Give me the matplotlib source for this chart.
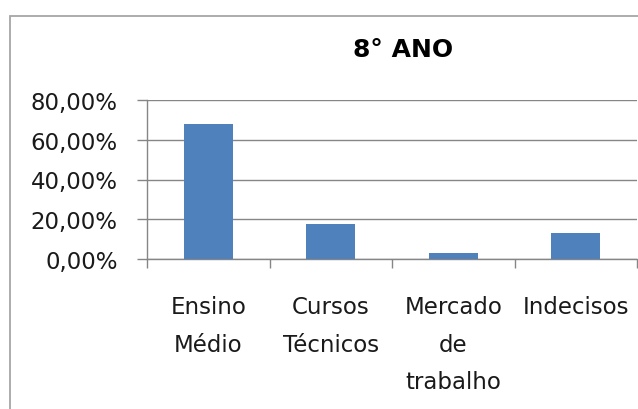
import matplotlib.pyplot as plt
from matplotlib.patches import Rectangle

categories = ["Ensino\nMédio", "Cursos\nTécnicos", "Mercado\nde\ntrabalho", "Indecisos"]
values = [0.677, 0.178, 0.030, 0.129]
y_ticks = [0.0, 0.2, 0.4, 0.6, 0.8]
y_labels = ["0,00%", "20,00%", "40,00%", "60,00%", "80,00%"]
title = "8° ANO"

W, H = 638, 410
fig = plt.figure(figsize=(W / 100, H / 100), dpi=100)

# chart area border (Excel style)
fig.patches.append(Rectangle((10 / W, -0.1), 2, 1.1 - 17 / H, transform=fig.transFigure,
                             fill=False, edgecolor="#a6a6a6", linewidth=1.3))

ax = fig.add_axes([147 / W, (H - 260) / H, (637 - 147) / W, (260 - 101) / H])

x = list(range(len(categories)))
ax.bar(x, values, width=0.4, color="#4f81bd", zorder=3)

ax.set_xlim(-0.5, len(categories) - 0.5)
ax.set_ylim(0, 0.8)
ax.set_yticks(y_ticks)
ax.set_yticklabels(y_labels)
ax.set_xticks(x)
ax.set_xticklabels(categories, linespacing=1.8, va="top")
ax.set_xticks([i - 0.5 for i in range(len(categories) + 1)], minor=True)

ax.grid(axis="y", color="#868686", linewidth=1, zorder=0)
for s in ["top", "right"]:
    ax.spines[s].set_visible(False)
for s in ["left", "bottom"]:
    ax.spines[s].set_color("#868686")
    ax.spines[s].set_linewidth(1)

ax.tick_params(axis="y", length=7, width=1, color="#868686", pad=14,
               labelsize=16.5, labelcolor="#1a1a1a")
ax.tick_params(axis="x", which="major", length=0, pad=26,
               labelsize=16.5, labelcolor="#1a1a1a")
ax.tick_params(axis="x", which="minor", length=6.5, width=1, color="#868686")

fig.text(403 / W, 1 - 50 / H, title, ha="center", va="center",
         fontsize=18, fontweight="bold")

fig.savefig("out.png", dpi=100)
